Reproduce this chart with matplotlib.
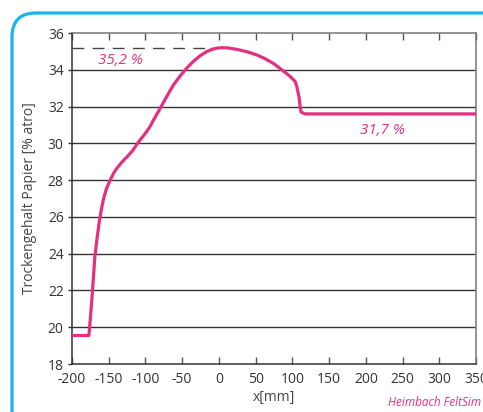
#
# Trockengehalt Papier entlang der Presse (FeltSim-Kurve)
#

import matplotlib
matplotlib.use("Agg")
import matplotlib.pyplot as plt
from matplotlib.patches import FancyBboxPatch
from matplotlib.transforms import Affine2D

# Kurve
x_mm = [-200, -177, -175, -173, -171, -169, -166, -163, -160, -157, -153, -148,
        -143, -139, -132, -125, -118, -112, -106, -100, -94, -89, -80, -71, -62,
        -53, -44, -35, -26, -17, -8, -2, 4, 12, 20, 29, 40, 52, 63, 74, 84, 92,
        98, 104, 106, 107.5, 109, 110, 110.5, 112, 117, 350]
trocken = [19.55, 19.55, 20.5, 21.5, 22.6, 23.8, 24.8, 25.7, 26.4, 27.0, 27.55, 28.0,
           28.4, 28.64, 28.98, 29.27, 29.58, 29.93, 30.25, 30.55, 30.9, 31.27, 31.9, 32.55, 33.17,
           33.65, 34.08, 34.45, 34.75, 34.98, 35.13, 35.18, 35.2, 35.19, 35.14, 35.07, 34.96, 34.8, 34.6, 34.35, 34.05, 33.8,
           33.6, 33.35, 33.1, 32.8, 32.54, 32.2, 32.0, 31.7, 31.6, 31.6]

max_wert = 35.2
x_ticks = list(range(-200, 351, 50))
y_ticks = list(range(18, 37, 2))
label_max = "35,2 %"
label_end = "31,7 %"

pink = "#e6307f"
cyan = "#1cb4e8"
grau = "#444444"

plt.rcParams["font.family"] = ["Open Sans", "DejaVu Sans"]
plt.rcParams["axes.unicode_minus"] = False

W, H = 483, 412
fig = plt.figure(figsize=(W / 100, H / 100), dpi=100)
ax = fig.add_axes([72 / W, (H - 364) / H, 404 / W, 331 / H])

# Rahmen oben links (runde Ecke), in Pixelkoordinaten
px = Affine2D().scale(1 / W, 1 / H) + fig.transFigure
rahmen = FancyBboxPatch((12, -60), 560, H - 13 + 60,
                        boxstyle="round,pad=0,rounding_size=24",
                        transform=px, fill=False, edgecolor=cyan, linewidth=2.3)
fig.patches.append(rahmen)

# Gitterlinien
for y in y_ticks[1:-1]:
    ax.axhline(y, color="#333333", linewidth=1.0, zorder=1)

# gestrichelte Linie beim Maximum
ax.plot([-200, -6], [max_wert, max_wert], color="#444444", linewidth=1.0,
        dashes=(8.5, 6), zorder=2)

ax.plot(x_mm, trocken, color=pink, linewidth=2.3, zorder=3,
        solid_joinstyle="round")

ax.text(-165, 34.53, label_max, color=pink, fontsize=11, style="italic",
        va="center", ha="left")
ax.text(192, 30.72, label_end, color=pink, fontsize=11, style="italic",
        va="center", ha="left")

ax.set_xlim(-200, 350)
ax.set_ylim(18, 36)
ax.set_xticks(x_ticks)
ax.set_yticks(y_ticks)
ax.tick_params(axis="x", direction="in", top=True, length=5, width=1,
               color="#555555", labelsize=10, labelcolor="#333333", pad=6)
ax.tick_params(axis="y", direction="out", length=3, width=1,
               color="#333333", labelsize=10, labelcolor="#333333", pad=3)

for s in ["left", "bottom"]:
    ax.spines[s].set_color("#333333")
    ax.spines[s].set_linewidth(1.1)
for s in ["top", "right"]:
    ax.spines[s].set_color("#777777")
    ax.spines[s].set_linewidth(1.1)

ax.set_xlabel("x[mm]", fontsize=10, color=grau, labelpad=2)
ax.set_ylabel("Trockengehalt Papier [% atro]", fontsize=10, color=grau, labelpad=8)

fig.text(481 / W, 1 - 403 / H, "Heimbach FeltSim", color=pink, fontsize=8.5,
         style="italic", ha="right", va="center")

fig.savefig("out.png", dpi=100)
